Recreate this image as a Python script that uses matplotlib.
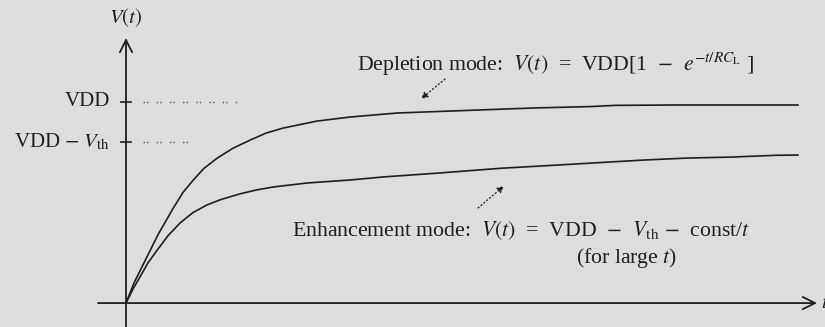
import matplotlib.pyplot as plt

plt.rcParams['font.family'] = ['Liberation Serif', 'DejaVu Serif']
plt.rcParams['mathtext.fontset'] = 'stix'

# Depletion-mode load: output voltage rise (t in arbitrary units, V in units of VDD)
t_depl = [0, 0.08, 0.17, 0.25, 0.32, 0.47, 0.57, 0.67, 0.78, 0.91, 1.07, 1.24,
          1.40, 1.57, 1.91, 2.24, 2.71, 3.36, 4.07, 4.64, 4.89, 5.50, 6.72]
v_depl = [0, 0.10, 0.19, 0.27, 0.34, 0.47, 0.55, 0.61, 0.67, 0.72, 0.77, 0.81,
          0.845, 0.87, 0.905, 0.925, 0.945, 0.957, 0.970, 0.977, 0.983, 0.985,
          0.985]

# Enhancement-mode load: slower approach to VDD - Vth
t_enh = [0, 0.07, 0.14, 0.22, 0.31, 0.42, 0.54, 0.67, 0.81, 0.95, 1.14, 1.30,
         1.47, 1.81, 2.24, 2.57, 3.14, 3.74, 4.34, 5.17, 5.61, 6.06, 6.51, 6.72]
v_enh = [0, 0.07, 0.13, 0.20, 0.262, 0.335, 0.398, 0.45, 0.488, 0.515, 0.543,
         0.562, 0.577, 0.597, 0.612, 0.627, 0.647, 0.670, 0.687, 0.711, 0.721,
         0.726, 0.735, 0.736]

# reference levels on the V axis
level_names = ['VDD', 'VDD $-$ $V_{\\rm th}$']
level_values = [1.0, 0.80]
level_dot_end = [1.11, 0.66]

bg = '#dcdedb'
ink = '#1e1e1e'
fs = 15
fs_note = 15.7

fig = plt.figure(figsize=(8.25, 3.27), dpi=100, facecolor=bg)
ax = fig.add_axes([0, 0, 1, 1], facecolor=bg)
ax.set_xlim(-1.26, 6.99)
ax.set_ylim(-0.119, 1.507)
ax.axis('off')

# axes with arrows
ax.annotate('', xy=(6.91, 0), xytext=(-0.28, 0),
            arrowprops=dict(arrowstyle='->', color=ink, lw=1.3,
                            mutation_scale=22, shrinkA=0, shrinkB=0))
ax.annotate('', xy=(0, 1.318), xytext=(0, -0.119),
            arrowprops=dict(arrowstyle='->', color=ink, lw=1.3,
                            mutation_scale=22, shrinkA=0, shrinkB=0))
ax.text(6.95, 0.0, '$t$', fontsize=fs, ha='left', va='center', color=ink)
ax.text(0, 1.418, '$V(t)$', fontsize=fs, ha='center', va='center', color=ink)

# level ticks, labels and dotted guides
for name, val, xend in zip(level_names, level_values, level_dot_end):
    ax.plot([-0.05, 0.05], [val, val], color=ink, lw=1.2)
    ax.text(-0.16, val, name, fontsize=fs, ha='right', va='center', color=ink)
    ax.plot([0.17, xend], [val, val], color='#555555', lw=1.0,
            linestyle=(0, (1, 1.5, 1, 6)))

# the two curves
ax.plot(t_depl, v_depl, color=ink, lw=1.2)
ax.plot(t_enh, v_enh, color=ink, lw=1.2)

# annotations with dotted pointer arrows
ax.text(2.31, 1.19,
        'Depletion mode:  $V(t)$  =  VDD[1  $-$  $e^{-t/RC_{\\rm L}}$ ]',
        fontsize=fs_note, ha='left', va='center', color=ink)
ax.annotate('', xy=(2.95, 1.015), xytext=(3.19, 1.114),
            arrowprops=dict(arrowstyle='-|>', color=ink, lw=0.9,
                            linestyle=(0, (1, 2)), mutation_scale=10,
                            shrinkA=0, shrinkB=0))

ax.text(1.66, 0.36,
        'Enhancement mode:  $V(t)$  =  VDD  $-$  $V_{\\rm th}$ $-$  const/$t$',
        fontsize=fs_note, ha='left', va='center', color=ink)
ax.text(5.01, 0.225, '(for large $t$)', fontsize=fs_note, ha='center',
        va='center', color=ink)
ax.annotate('', xy=(3.78, 0.582), xytext=(3.52, 0.473),
            arrowprops=dict(arrowstyle='-|>', color=ink, lw=0.9,
                            linestyle=(0, (1, 2)), mutation_scale=10,
                            shrinkA=0, shrinkB=0))

fig.savefig('out.png', dpi=100, facecolor=bg)
